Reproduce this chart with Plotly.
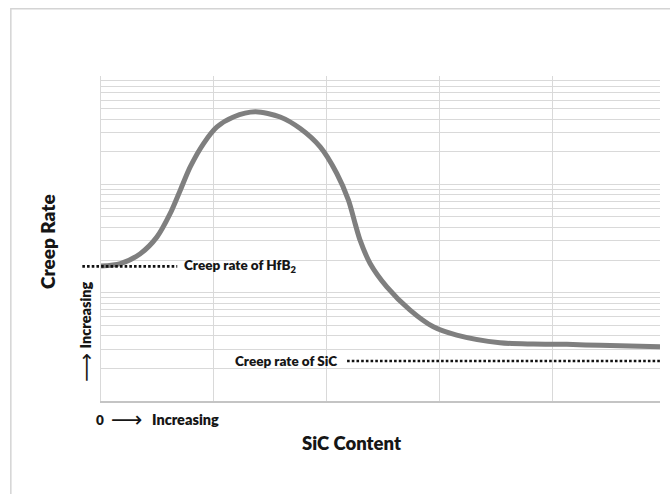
import math
import plotly.graph_objects as go

# SiC content (arbitrary units) and the resulting creep rate (arbitrary units, log scale)
sic_content = [0.0, 0.171, 0.348, 0.496, 0.613, 0.702, 0.790, 0.908, 1.027, 1.173,
               1.366, 1.587, 1.764, 1.941, 2.088, 2.191, 2.250, 2.294, 2.383, 2.531,
               2.737, 2.943, 3.150, 3.533, 3.828, 4.124, 4.419, 4.950]
creep_rate = [0.01758, 0.01854, 0.02291, 0.03274, 0.05383, 0.08830, 0.1448, 0.2379,
              0.3386, 0.4185, 0.4674, 0.4185, 0.3272, 0.2214, 0.1259, 0.07139,
              0.04352, 0.03053, 0.01862, 0.01132, 0.006903, 0.004842, 0.004061,
              0.003449, 0.003355, 0.003334, 0.003264, 0.003169]

# Reference creep rates of the two pure phases
creep_rate_hfb2 = 0.0175
creep_rate_sic = 0.00234

# Log gridlines: every digit of each decade
y_grid = [d * 10.0 ** k for k in (-3, -2, -1) for d in range(1, 10)] + [1.0]

FONT = "Lato"
GRID = "#d9d9d9"
INK = "#161616"

fig = go.Figure()
fig.add_trace(go.Scatter(
    x=sic_content, y=creep_rate, mode="lines",
    line=dict(color="#7f7f7f", width=5, shape="spline", smoothing=0.8),
    hoverinfo="skip", showlegend=False,
))

dot_line = dict(color="#111111", width=2.6, dash="2.6px,2.1px")
fig.add_shape(type="line", xref="paper", yref="y", x0=-0.0334, x1=0.1364,
              y0=creep_rate_hfb2, y1=creep_rate_hfb2, line=dot_line)
fig.add_shape(type="line", xref="paper", yref="y", x0=0.4402, x1=1.0,
              y0=creep_rate_sic, y1=creep_rate_sic, line=dot_line)

# Outer frame of the figure
fig.add_shape(type="rect", xref="paper", yref="paper", x0=-0.1613, x1=1.05,
              y0=-0.4, y1=1.2066, line=dict(color="#d4d4d4", width=1.5),
              fillcolor="rgba(0,0,0,0)", layer="below")

lbl = dict(family=FONT, size=13.5, color=INK, weight=800)
big = dict(family=FONT, size=18.5, color=INK, weight=800)
arr = dict(family="DejaVu Sans", size=22, color=INK)
arr_v = dict(family="DejaVu Sans", size=20, color=INK)


def note(text, x, y, font, xref="paper", yref="paper", xanchor="center", angle=0):
    fig.add_annotation(text=text, xref=xref, yref=yref, x=x, y=y, xanchor=xanchor,
                       yanchor="middle", textangle=angle, showarrow=False, font=font)


# Annotation positions on a log axis are given in log10 units
note("Creep rate of HfB<sub>2</sub>", 0.1446, math.log10(creep_rate_hfb2), lbl,
     yref="y", xanchor="left")
note("Creep rate of SiC", 0.4263, math.log10(creep_rate_sic), lbl,
     yref="y", xanchor="right")

# Direction hints along the two axes
note("0", -0.0021, -0.0584, lbl)
note("\u27f6", 0.0470, -0.0584, arr)
note("Increasing", 0.0881, -0.0584, dict(lbl, size=14.5), xanchor="left")
note("Increasing", -0.028, 0.2644, dict(lbl, size=14.5), angle=-90)
note("\u27f6", -0.028, 0.103, arr_v, angle=-90)

note("Creep Rate", -0.0966, 0.489, dict(big, size=19), angle=-90)
note("SiC Content", 0.4493, -0.129, big)

fig.update_layout(
    width=670, height=494,
    margin=dict(l=100.7, r=10, t=75.7, b=93),
    paper_bgcolor="white", plot_bgcolor="white",
    xaxis=dict(range=[0, 4.95], tick0=0, dtick=1, showgrid=True, gridcolor=GRID,
               gridwidth=1, showticklabels=False, ticks="", zeroline=False,
               showline=True, linecolor="#c4c4c4", linewidth=1.5),
    yaxis=dict(type="log", range=[-3, 0], tickmode="array", tickvals=y_grid,
               showgrid=True, gridcolor=GRID, gridwidth=1, showticklabels=False,
               ticks="", zeroline=False, showline=True, linecolor=GRID, linewidth=1),
)

fig.write_html("out.html")
